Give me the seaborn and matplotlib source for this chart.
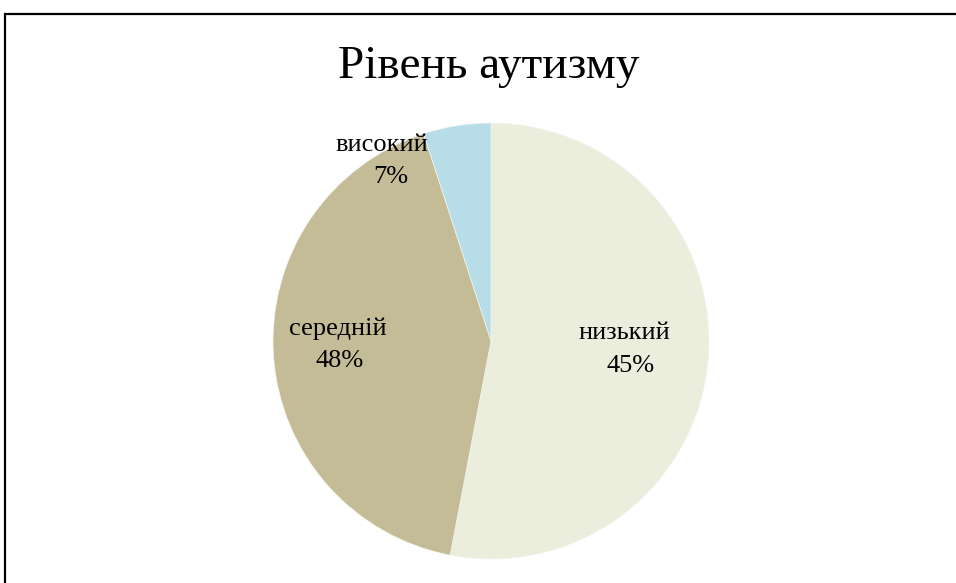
import matplotlib
matplotlib.use("Agg")
import matplotlib.pyplot as plt
from matplotlib.patches import Rectangle
import seaborn as sns

sns.set_theme(style="white")
plt.rcParams['font.family'] = ['Liberation Serif', 'DejaVu Serif']
plt.rcParams['text.color'] = 'black'

# data (slice sizes as drawn, labels as printed)
categories = ["низький", "середній", "високий"]
slice_shares = [53, 42, 5]
label_pcts = ["45%", "48%", "7%"]
colors = ["#EBEEDD", "#C4BC97", "#B7DDE8"]

W, H = 956, 583
fig = plt.figure(figsize=(W / 100, H / 100), dpi=100)

# frame
fig.patches.append(Rectangle((5 / W, -0.05), 1.0, (H - 14) / H + 0.05,
                             transform=fig.transFigure, fill=False,
                             edgecolor="black", linewidth=1.6, zorder=0))

fig.text(489 / W, 1 - 67 / H, "Рівень аутизму", ha="center", va="center",
         fontsize=34, color="black")

cx, cy, r = 491, 341, 218
ax = fig.add_axes([(cx - r) / W, (H - cy - r) / H, 2 * r / W, 2 * r / H])
ax.pie(slice_shares, colors=colors, startangle=90, counterclock=False,
       radius=1.0, wedgeprops=dict(edgecolor="#F4F4EE", linewidth=0.5))
ax.set_xlim(-1, 1)
ax.set_ylim(-1, 1)
ax.set_aspect("auto")
ax.axis("off")


def px(x, y):
    return (x - cx) / r, (cy - y) / r


# label positions (pixel coords of text centres)
name_pos = [(624, 333), (338, 329), (382, 145)]
pct_pos = [(631, 366), (340, 361), (391, 177)]
for name, pct, npos, ppos in zip(categories, label_pcts, name_pos, pct_pos):
    ax.text(*px(*npos), name, ha="center", va="center", fontsize=19, color="black")
    ax.text(*px(*ppos), pct, ha="center", va="center", fontsize=19, color="black")

fig.savefig("out.png", dpi=100)
